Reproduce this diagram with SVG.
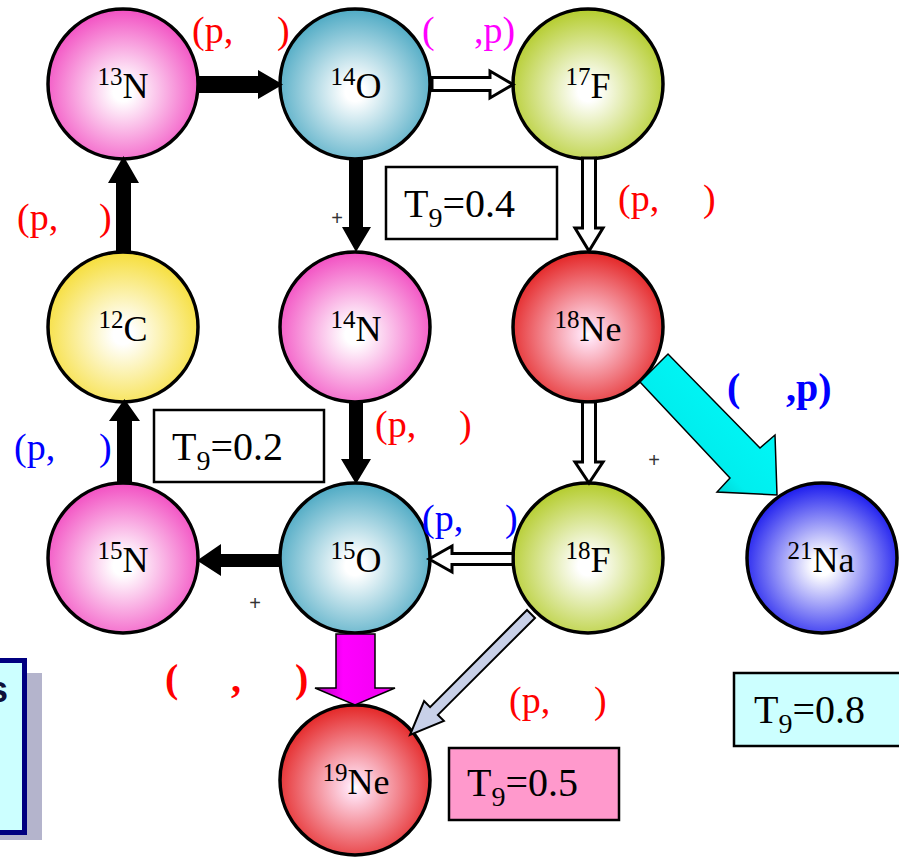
<svg xmlns="http://www.w3.org/2000/svg" width="899" height="859" viewBox="0 0 899 859">
<style>
.node{stroke:#000;stroke-width:3.5}
.el{font-family:"Liberation Serif","Times New Roman",serif;font-size:36px;fill:#000}
.sup{font-size:25px}
.lab{font-family:"Liberation Serif","Times New Roman",serif;font-size:38px}
.red{fill:#ff0000}.blue{fill:#0000ff}.mag{fill:#ff00ff}
.bold{font-weight:bold;font-size:40px}
.t9{font-family:"Liberation Serif","Times New Roman",serif;font-size:40px;fill:#000}
.sub{font-size:28px}
.box{stroke:#000;stroke-width:2.5}
.blk{fill:#000}
.hol{fill:#fff;stroke:#000;stroke-width:3;stroke-linejoin:miter}
.plus{font-family:"Liberation Sans",Arial,sans-serif;font-size:20px;fill:#333}
</style>
<defs>
<radialGradient id="gPink" cx="0.5" cy="0.55" r="0.55"><stop offset="0" stop-color="#fff"/><stop offset="0.12" stop-color="#fff"/><stop offset="1" stop-color="#f24fc2"/></radialGradient>
<radialGradient id="gTeal" cx="0.5" cy="0.55" r="0.55"><stop offset="0" stop-color="#fff"/><stop offset="0.12" stop-color="#fff"/><stop offset="1" stop-color="#4eaac4"/></radialGradient>
<radialGradient id="gGreen" cx="0.5" cy="0.55" r="0.55"><stop offset="0" stop-color="#fff"/><stop offset="0.12" stop-color="#fff"/><stop offset="1" stop-color="#b4cc2c"/></radialGradient>
<radialGradient id="gYel" cx="0.5" cy="0.55" r="0.55"><stop offset="0" stop-color="#fff"/><stop offset="0.12" stop-color="#fff"/><stop offset="1" stop-color="#f6de3a"/></radialGradient>
<radialGradient id="gRed" cx="0.5" cy="0.55" r="0.55"><stop offset="0" stop-color="#fff"/><stop offset="0.1" stop-color="#fde"/><stop offset="1" stop-color="#e42626"/></radialGradient>
<radialGradient id="gBlue" cx="0.5" cy="0.55" r="0.55"><stop offset="0" stop-color="#fff"/><stop offset="0.12" stop-color="#fff"/><stop offset="1" stop-color="#1a1aee"/></radialGradient>
<linearGradient id="gMag" x1="0" y1="0" x2="1" y2="0"><stop offset="0" stop-color="#b000b8"/><stop offset="0.35" stop-color="#ff00ff"/><stop offset="1" stop-color="#f000f0"/></linearGradient>
<linearGradient id="gCyan" x1="0" y1="1" x2="1" y2="0"><stop offset="0" stop-color="#008f8f"/><stop offset="0.4" stop-color="#00eeee"/><stop offset="1" stop-color="#00ffff"/></linearGradient>
</defs>

<g id="legend-box">
<rect x="-10" y="673" width="52" height="167" fill="#b4b4cc"/>
<rect x="-20" y="660.5" width="44.5" height="172" fill="#ccffff" stroke="#000080" stroke-width="5"/>
<text x="8" y="702" text-anchor="end" font-family="Liberation Sans,Arial,sans-serif" font-weight="bold" font-size="36" fill="#10103a">s</text>
</g>

<g id="n13N"><circle class="node" cx="123" cy="84" r="75" fill="url(#gPink)"/><text class="el" x="123" y="98" text-anchor="middle"><tspan class="sup" dy="-13">13</tspan><tspan dy="13">N</tspan></text></g>
<g id="n14O"><circle class="node" cx="355" cy="84" r="75" fill="url(#gTeal)"/><text class="el" x="356" y="98" text-anchor="middle"><tspan class="sup" dy="-13">14</tspan><tspan dy="13">O</tspan></text></g>
<g id="n17F"><circle class="node" cx="588" cy="84" r="75" fill="url(#gGreen)"/><text class="el" x="588" y="98" text-anchor="middle"><tspan class="sup" dy="-13">17</tspan><tspan dy="13">F</tspan></text></g>
<g id="n12C"><circle class="node" cx="123" cy="327" r="75" fill="url(#gYel)"/><text class="el" x="123" y="341" text-anchor="middle"><tspan class="sup" dy="-13">12</tspan><tspan dy="13">C</tspan></text></g>
<g id="n14N"><circle class="node" cx="355" cy="327" r="75" fill="url(#gPink)"/><text class="el" x="356" y="341" text-anchor="middle"><tspan class="sup" dy="-13">14</tspan><tspan dy="13">N</tspan></text></g>
<g id="n18Ne"><circle class="node" cx="588" cy="327" r="75" fill="url(#gRed)"/><text class="el" x="588" y="341" text-anchor="middle"><tspan class="sup" dy="-13">18</tspan><tspan dy="13">Ne</tspan></text></g>
<g id="n15N"><circle class="node" cx="123" cy="558" r="75" fill="url(#gPink)"/><text class="el" x="123" y="572" text-anchor="middle"><tspan class="sup" dy="-13">15</tspan><tspan dy="13">N</tspan></text></g>
<g id="n15O"><circle class="node" cx="355" cy="558" r="75" fill="url(#gTeal)"/><text class="el" x="356" y="572" text-anchor="middle"><tspan class="sup" dy="-13">15</tspan><tspan dy="13">O</tspan></text></g>
<g id="n18F"><circle class="node" cx="588" cy="558" r="75" fill="url(#gGreen)"/><text class="el" x="588" y="572" text-anchor="middle"><tspan class="sup" dy="-13">18</tspan><tspan dy="13">F</tspan></text></g>
<g id="n21Na"><circle class="node" cx="822" cy="558" r="75" fill="url(#gBlue)"/><text class="el" x="821" y="572" text-anchor="middle"><tspan class="sup" dy="-13">21</tspan><tspan dy="13">Na</tspan></text></g>
<g id="n19Ne"><circle class="node" cx="355" cy="780" r="75" fill="url(#gRed)"/><text class="el" x="356" y="794" text-anchor="middle"><tspan class="sup" dy="-13">19</tspan><tspan dy="13">Ne</tspan></text></g>

<g id="connectors">
<polygon class="blk" points="197,76 258,76 258,70 283,84.5 258,99 258,93 197,93"/>
<polygon class="hol" points="432,77.5 490,77.5 490,71 513,84.5 490,98 490,90.5 432,90.5"/>
<polygon class="blk" points="349,158 363,158 363,227 371,227 356,252 342,227 349,227"/>
<polygon class="hol" points="582.5,158 595.5,158 595.5,228 603,228 589,251 575,228 582.5,228"/>
<polygon class="blk" points="116,252 131,252 131,183 139,183 123.5,156 108,183 116,183"/>
<polygon class="blk" points="117,483 132,483 132,421 140,421 124.5,399 109,421 117,421"/>
<polygon class="blk" points="349,402 363,402 363,459 371,459 356,484 341,459 349,459"/>
<polygon class="hol" points="582.5,402 595.5,402 595.5,462 603,462 589,483 575,462 582.5,462"/>
<polygon class="blk" points="281,554 221,554 221,544 197,560.5 221,576 221,567 281,567"/>
<polygon class="hol" points="513,553.5 452,553.5 452,546 429,559 452,572 452,564.5 513,564.5"/>
<polygon points="336,634 375,634 375,688 395,688 355,705 315,688 336,688" fill="url(#gMag)" stroke="#000" stroke-width="1.5"/>
<polygon points="527,610 430.1,707.1 424.1,701.1 410,735 443.9,720.9 437.9,714.9 535,618" fill="#c8d0e8" stroke="#000" stroke-width="2"/>
<polygon points="640,382 730,478 717,492 777,495 775,435 760,448 668,354" fill="url(#gCyan)" stroke="#000" stroke-width="1.5"/>
</g>

<g id="labels">
<text class="lab red" x="192" y="43">(p,</text><text class="lab red" x="277" y="43">)</text>
<text class="lab mag" x="422" y="43">(</text><text class="lab mag" x="474" y="43">,p)</text>
<text class="lab red" x="17" y="230">(p,</text><text class="lab red" x="99" y="230">)</text>
<text class="lab red" x="618" y="211">(p,</text><text class="lab red" x="703" y="211">)</text>
<text class="lab red" x="375" y="437">(p,</text><text class="lab red" x="459" y="437">)</text>
<text class="lab blue" x="14" y="460">(p,</text><text class="lab blue" x="99" y="460">)</text>
<text class="lab blue" x="422" y="531">(p,</text><text class="lab blue" x="505" y="531">)</text>
<text class="lab red" x="509" y="713">(p,</text><text class="lab red" x="594" y="713">)</text>
<text class="lab blue bold" x="727" y="401">(</text><text class="lab blue bold" x="786" y="401">,p)</text>
<text class="lab red bold" x="165" y="692" font-size="46">(</text><text class="lab red bold" x="231" y="692" font-size="46">,</text><text class="lab red bold" x="295" y="692" font-size="46">)</text>
<text class="plus" x="337" y="225" text-anchor="middle">+</text>
<text class="plus" x="654" y="467" text-anchor="middle">+</text>
<text class="plus" x="255" y="610" text-anchor="middle">+</text>
</g>

<g id="t04"><rect class="box" x="386" y="167" width="171" height="72" fill="#fff"/><text class="t9" x="404" y="217">T<tspan class="sub" dy="10">9</tspan><tspan dy="-10">=0.4</tspan></text></g>
<g id="t02"><rect class="box" x="154" y="410" width="170" height="72" fill="#fff"/><text class="t9" x="172" y="460">T<tspan class="sub" dy="10">9</tspan><tspan dy="-10">=0.2</tspan></text></g>
<g id="t05"><rect class="box" x="449" y="748" width="170" height="72" fill="#ff99cc"/><text class="t9" x="467" y="796">T<tspan class="sub" dy="10">9</tspan><tspan dy="-10">=0.5</tspan></text></g>
<g id="t08"><rect class="box" x="734" y="673" width="175" height="73" fill="#ccffff"/><text class="t9" x="754" y="723">T<tspan class="sub" dy="10">9</tspan><tspan dy="-10">=0.8</tspan></text></g>
</svg>
